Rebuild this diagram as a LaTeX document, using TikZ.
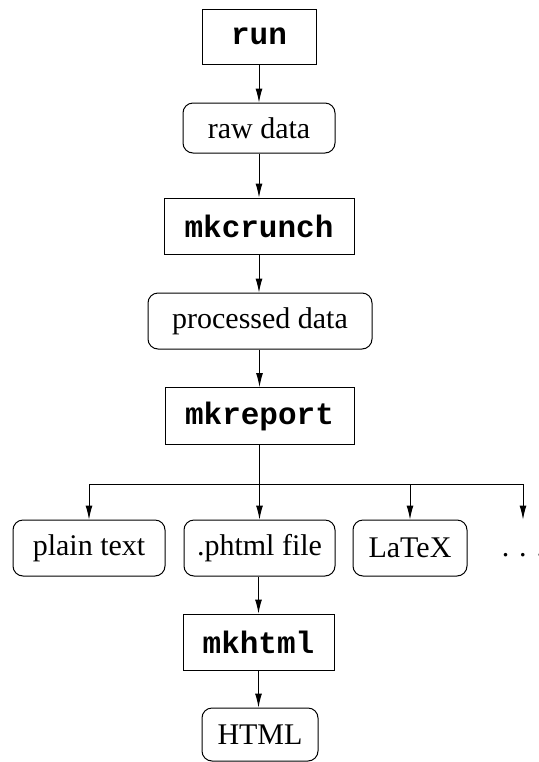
\documentclass[tikz,border=0pt]{standalone}
\usepackage{fontspec}
\setmainfont{Liberation Serif}
\setmonofont{Liberation Mono}
\usetikzlibrary{arrows.meta,positioning}

\tikzset{
  prog/.style={draw,rectangle,minimum height=28pt,inner sep=0pt,
    font=\fontsize{15.5}{18}\selectfont\ttfamily\bfseries},
  data/.style={draw,rectangle,rounded corners=5pt,minimum height=28pt,inner sep=0pt,
    font=\fontsize{15}{18}\selectfont},
  flow/.style={-{Latex[length=7pt,width=3.5pt]}},
}

\begin{document}
\begin{tikzpicture}[x=0.5pt,y=-0.5pt,line width=0.5pt]
    \useasboundingbox (0,0) rectangle (538,762);

    % main column
    \node[prog,minimum width=57pt,minimum height=27.5pt] (run) at (259,36.5) {run};
    \node[data,minimum width=76pt,minimum height=25pt] (raw) at (259,128) {raw data};
    \node[prog,minimum width=95pt] (crunch) at (259,226) {mkcrunch};
    \node[data,minimum width=112pt] (proc) at (260,321) {processed data};
    \node[prog,minimum width=94.5pt,minimum height=28.5pt] (report) at (259.5,416) {mkreport};

    % outputs of mkreport
    \coordinate (bus) at (259,484);
    \node[data,minimum width=76pt] (plain) at (89,548) {plain text};
    \node[data,minimum width=75.5pt] (phtml) at (259.5,548) {.phtml file};
    \node[data,minimum width=57pt] (latex) at (410,548) {LaTeX};
    \node[font=\fontsize{15}{18}\selectfont,anchor=base] (more) at (523,556) {. . .};

    % html branch
    \node[prog,minimum width=75.5pt] (mkhtml) at (258.5,642) {mkhtml};
    \node[data,minimum width=58pt,minimum height=26.5pt] (html) at (260,734.5) {HTML};

    \draw[flow] (run) -- (raw);
    \draw[flow] (raw) -- (crunch);
    \draw[flow] (crunch) -- (proc.north -| crunch);
    \draw[flow] (proc.south -| report) -- (report);
    \draw[flow] (report) -- (phtml.north -| report);
    \draw (plain |- bus) -- (more |- bus);
    \draw[flow] (plain |- bus) -- (plain);
    \draw[flow] (latex |- bus) -- (latex);
    \draw[flow] (more |- bus) -- (more |- plain.north);
    \draw[flow] (phtml.south -| mkhtml) -- (mkhtml);
    \draw[flow] (mkhtml) -- (html.north -| mkhtml);
\end{tikzpicture}
\end{document}
